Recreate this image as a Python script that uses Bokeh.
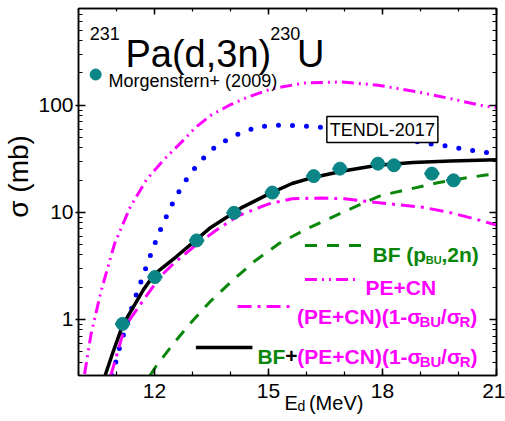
import numpy as np
from bokeh.plotting import figure
from bokeh.models import Range1d, LinearAxis, LogAxis, FixedTicker, Label, Title
from bokeh.embed import file_html
from bokeh.resources import INLINE

# ---------------- axes ----------------
x_min, x_max = 10, 21
y_min, y_max = 0.3, 800
x_major = [12, 15, 18, 21]
x_minor = list(range(10, 22))
y_major = [1, 10, 100]
y_minor = [m * 10.0 ** e for e in (-1, 0, 1, 2) for m in range(2, 10)]
y_tick_labels = {1: "1", 10: "10", 100: "100"}

# ---------------- data ----------------
# Morgenstern+ (2009) experimental points
exp_E = [11.16, 12.01, 13.11, 14.09, 15.10, 16.19, 16.88, 17.88, 18.30, 19.30, 19.87]
exp_sigma = [0.91, 2.49, 5.47, 9.9, 15.3, 21.8, 25.6, 28.5, 27.5, 23.0, 19.9]
exp_dE = [0.2, 0.2, 0.2, 0.2, 0.2, 0.2, 0.2, 0.2, 0.2, 0.2, 0.2]
exp_dsigma = [0.07, 0.2, 0.4, 0.7, 1.1, 1.5, 1.8, 2.0, 2.0, 1.7, 1.5]

# TENDL-2017
tendl_E = [10.88, 10.94, 11.05, 11.27, 11.40, 11.53, 11.81, 11.95, 12.10, 12.27, 12.46,
           12.66, 12.91, 13.23, 13.58, 13.98, 14.36, 14.75, 15.14, 15.52, 15.91, 16.27,
           17.0, 17.8, 18.58, 18.99, 19.36, 19.75, 20.15, 20.54, 21.0]
tendl_sigma = [0.30, 0.35, 0.5, 0.91, 1.27, 1.74, 3.3, 4.5, 6.2, 8.5, 11.8,
               16.0, 22.2, 30.6, 40.3, 49.5, 57, 62.9, 65, 65, 64, 62.9,
               58, 52, 47, 45.3, 43, 41.4, 38.8, 37.2, 35]

# PE+CN
pecn_E = [10.16, 10.33, 10.60, 10.95, 11.36, 11.79, 12.23, 12.73, 13.10, 13.49, 13.97,
          14.45, 15.10, 15.93, 16.93, 17.88, 18.93, 19.80, 20.67, 21.0]
pecn_sigma = [0.31, 0.73, 1.87, 5.1, 11.2, 20.2, 30.6, 46, 62.9, 80.9, 100,
              119, 143, 161, 165, 154, 133, 115, 98.3, 95]

# (PE+CN)(1-sigma_BU/sigma_R)
pecnr_E = [10.85, 11.14, 11.27, 11.70, 12.14, 12.49, 13.01, 13.62, 14.23, 15.01, 15.62,
           16.40, 17.0, 17.71, 19.02, 19.71, 20.58, 21.0]
pecnr_sigma = [0.3, 0.68, 0.91, 1.50, 2.49, 3.3, 4.7, 6.8, 9.4, 12.0, 13.4,
               13.6, 13.4, 12.5, 11.2, 10.1, 8.4, 7.6]

# BF (p_BU, 2n)
bf_E = [11.88, 12.05, 12.49, 13.01, 13.45, 14.05, 14.66, 15.27, 15.97, 16.67, 17.45,
        17.97, 18.75, 19.45, 20.06, 20.67, 21.0]
bf_sigma = [0.3, 0.37, 0.59, 0.98, 1.45, 2.31, 3.56, 5.1, 6.9, 9.0, 12.0,
            14.4, 16.6, 18.9, 20.6, 22.2, 23.0]

# BF + (PE+CN)(1-sigma_BU/sigma_R)
tot_E = [10.70, 10.92, 11.16, 11.71, 12.0, 12.57, 13.11, 13.45, 14.32, 15.0, 15.62,
         16.2, 17.0, 17.87, 18.8, 19.8, 21.0]
tot_sigma = [0.3, 0.51, 0.88, 1.9, 2.65, 3.85, 5.6, 7.1, 11.2, 14.8, 18.6,
             21.3, 24.5, 27.5, 29.2, 30.2, 31.0]

# ---------------- style ----------------
FONT = "Liberation Sans"
MAGENTA = "#ff00ff"
BLUE = "#0000ff"
GREEN = "#0a870a"
TEAL = "#0b8585"
NBSP = "\u00a0"

# page-pixel -> data helpers (layout only, reference frame edges)
FL, FR, FT, FB = 74.7, 496.0, 8.0, 375.0


def X(px):
    return float(x_min + (px - FL) / (FR - FL) * (x_max - x_min))


def Y(py):
    lo, hi = np.log10(y_min), np.log10(y_max)
    return float(10 ** (lo + (FB - py) / (FB - FT) * (hi - lo)))


p = figure(width=505, height=421,
           x_range=Range1d(x_min, x_max), y_range=Range1d(y_min, y_max),
           y_axis_type="log", output_backend="svg", toolbar_location=None,
           min_border_left=75, min_border_right=9, min_border_top=8, min_border_bottom=46)
p.xgrid.visible = False
p.ygrid.visible = False
p.outline_line_color = "black"
p.outline_line_width = 1.5
p.background_fill_color = "white"
p.border_fill_color = "white"

xt = FixedTicker(ticks=x_major, minor_ticks=x_minor)
yt = FixedTicker(ticks=y_major, minor_ticks=y_minor)

xa = p.xaxis[0]
xa.ticker = xt
xa.major_tick_in = 7
xa.major_tick_out = 0
xa.minor_tick_in = 4
xa.minor_tick_out = 0
xa.axis_line_width = 1.5
xa.major_tick_line_width = 1.5
xa.minor_tick_line_width = 1.2
xa.major_label_text_font = FONT
xa.major_label_text_font_size = "21px"
xa.major_label_text_color = "black"
xa.major_label_standoff = 8

ya = p.yaxis[0]
ya.ticker = yt
ya.major_label_overrides = y_tick_labels
ya.major_tick_in = 7
ya.major_tick_out = 3
ya.minor_tick_in = 4
ya.minor_tick_out = 0
ya.axis_line_width = 1.5
ya.major_tick_line_width = 1.5
ya.minor_tick_line_width = 1.2
ya.major_label_text_font = FONT
ya.major_label_text_font_size = "21px"
ya.major_label_text_color = "black"
ya.major_label_standoff = 2
# leading no-break spaces lift the centred label to where the reference has it
ya.axis_label = NBSP * 4 + "\u03c3 (mb)"
ya.axis_label_text_font = FONT
ya.axis_label_text_font_size = "28px"
ya.axis_label_text_font_style = "normal"
ya.axis_label_text_color = "black"
ya.axis_label_standoff = 1

top = LinearAxis(ticker=xt, major_label_text_font_size="1px", major_label_text_color=None,
                 major_label_standoff=0,
                 major_tick_in=6, major_tick_out=0, minor_tick_in=3, minor_tick_out=0,
                 axis_line_width=1.5, major_tick_line_width=1.5, minor_tick_line_width=1.2)
p.add_layout(top, "above")
right = LogAxis(ticker=yt, major_label_text_font_size="1px", major_label_text_color=None,
                major_label_standoff=0,
                major_tick_in=7, major_tick_out=0, minor_tick_in=4, minor_tick_out=0,
                axis_line_width=1.5, major_tick_line_width=1.5, minor_tick_line_width=1.2)
p.add_layout(right, "right")

# x-axis title: "E" + subscript "d" + "(MeV)" as side-panel titles
p.add_layout(Title(text="E" + NBSP * 2 + "(MeV)", text_font=FONT, text_font_size="20px",
                   text_font_style="normal", text_color="black",
                   align="left", vertical_align="bottom", offset=206, standoff=-22), "below")
p.add_layout(Title(text="d", text_font=FONT, text_font_size="14px",
                   text_font_style="normal", text_color="black",
                   align="left", vertical_align="bottom", offset=219, standoff=-13), "below")

# ---------------- curves ----------------
p.line(pecn_E, pecn_sigma, color=MAGENTA, line_width=3, line_dash="12 5 2 5 2 5")
p.line(tendl_E, tendl_sigma, color=BLUE, line_width=5, line_dash="0 14", line_cap="round")
p.line(bf_E, bf_sigma, color=GREEN, line_width=3, line_dash="12 10")
p.line(pecnr_E, pecnr_sigma, color=MAGENTA, line_width=3, line_dash="14 6 3 6")
p.line(tot_E, tot_sigma, color="black", line_width=3.5)

# experimental points with error bars
eE = np.array(exp_E)
eS = np.array(exp_sigma)
edE = np.array(exp_dE)
edS = np.array(exp_dsigma)
p.segment(x0=eE - edE, y0=eS, x1=eE + edE, y1=eS, color=TEAL, line_width=2.5)
p.segment(x0=eE, y0=eS - edS, x1=eE, y1=eS + edS, color=TEAL, line_width=2.5)
p.scatter(exp_E, exp_sigma, size=13, color=TEAL, marker="circle")


# ---------------- text ----------------
def lab(text, px, py, size, color="black", bold=False, align="left", baseline="alphabetic",
        **kw):
    p.add_layout(Label(x=X(px), y=Y(py), text=text, text_font=FONT,
                       text_font_size=f"{size}px", text_color=color,
                       text_font_style="bold" if bold else "normal",
                       text_align=align, text_baseline=baseline, **kw))


# advance widths (em) of the bold sans glyphs, used to lay out mixed-size runs
ADV = {"(": .333, ")": .333, "P": .667, "E": .667, "+": .584, "C": .722, "N": .722,
       "1": .556, "-": .333, "\u03c3": .62, "B": .722, "U": .722, "/": .278, "R": .722,
       "F": .611, " ": .278, "p": .611, ",": .278, "2": .556, "n": .611}


def run(pieces, px, py):
    """pieces: (text, size, color, dy)"""
    for text, size, color, dy in pieces:
        lab(text, px, py + dy, size, color, True)
        px += sum(ADV.get(c, .6) for c in text) * size


# title
lab("231", 86, 33, 18)
lab("Pa(d,3n)", 122, 53, 38)
lab("230", 268, 33, 18)
lab("U", 295, 53, 38)

# experimental legend
p.scatter([X(92)], [Y(74)], size=11, color=TEAL, marker="circle")
lab("Morgenstern+ (2009)", 105, 80, 18)

# TENDL box
lab("TENDL-2017", 325, 129, 18, baseline="middle",
    border_line_color="black", border_line_width=1.5,
    background_fill_color="white", padding=3)

# legend line samples
p.line([X(303), X(360)], [Y(245), Y(245)], color=GREEN, line_width=3, line_dash="12 10")
p.line([X(303), X(358)], [Y(279), Y(279)], color=MAGENTA, line_width=3, line_dash="12 5 2 5 2 5")
p.line([X(235), X(290)], [Y(306), Y(306)], color=MAGENTA, line_width=3, line_dash="14 6 3 6")
p.line([X(193), X(250)], [Y(347), Y(347)], color="black", line_width=3.5)

# legend texts
run([("BF (p", 21, GREEN, 0), ("BU", 11, GREEN, 5), (",2n)", 21, GREEN, 0)], 371, 254)
run([("PE+CN", 21, MAGENTA, 0)], 364, 287)
tail = [("(PE+CN)(1-\u03c3", 21, MAGENTA, 0), ("BU", 15, MAGENTA, 5),
        ("/\u03c3", 21, MAGENTA, 0), ("R", 15, MAGENTA, 5), (")", 21, MAGENTA, 0)]
run(tail, 295, 315.5)
run([("BF", 21, GREEN, 0), ("+", 21, "black", 0)] + tail, 255, 355.5)

open("out.html", "w").write(file_html(p, INLINE))
